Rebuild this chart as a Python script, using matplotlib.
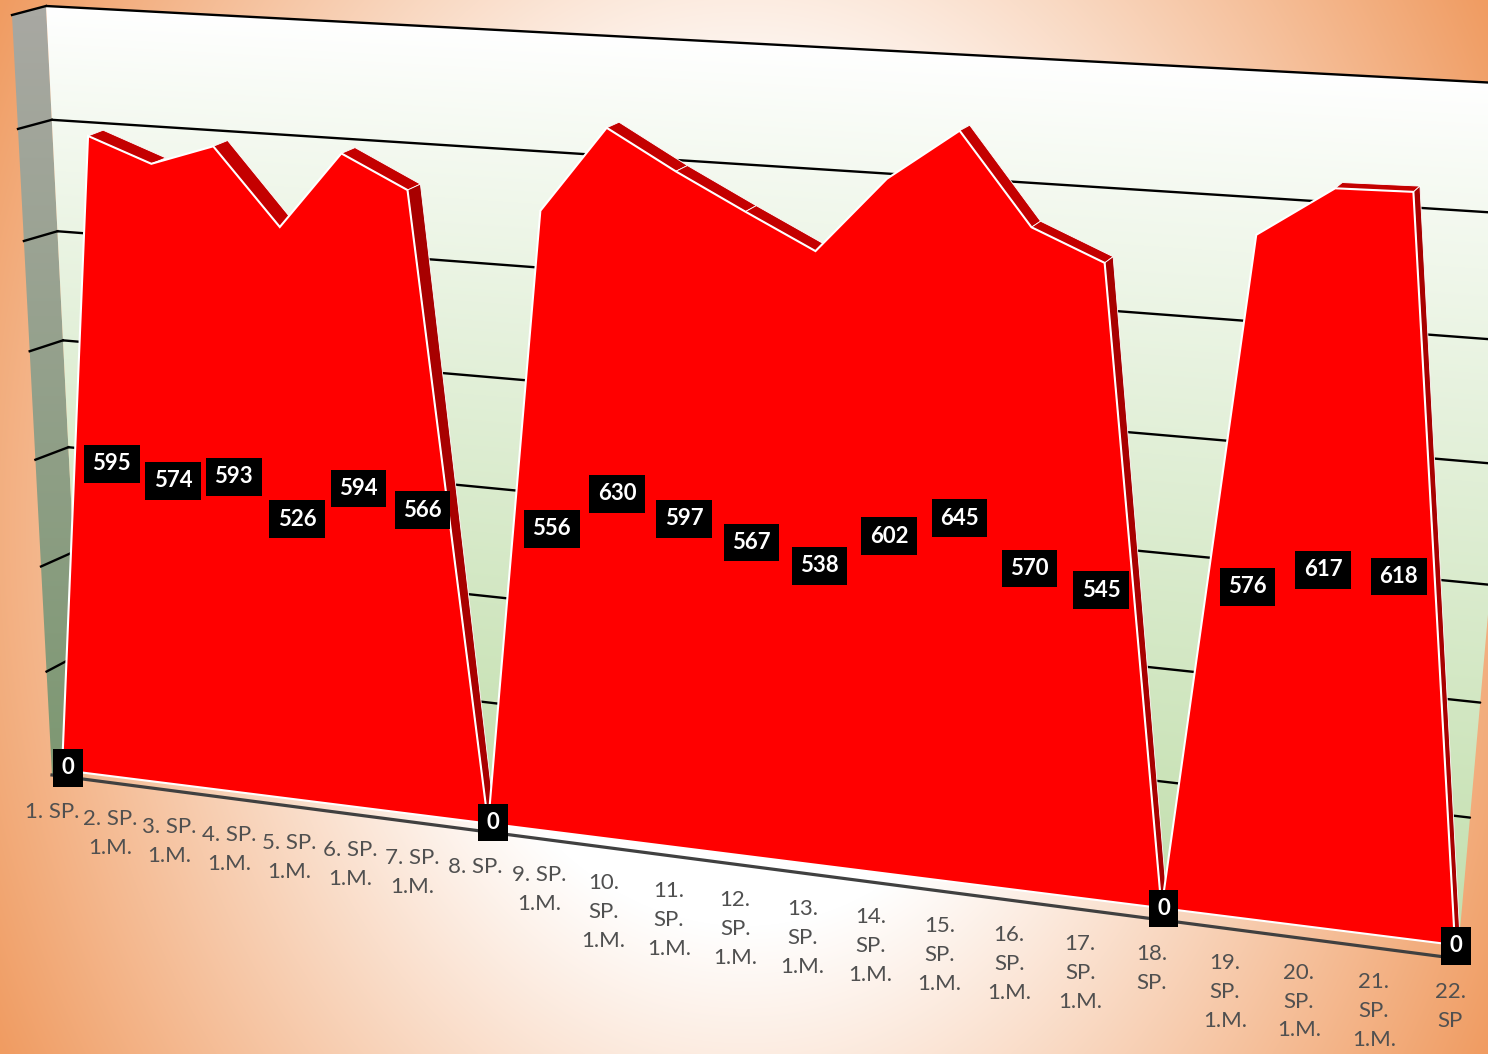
import numpy as np
import matplotlib
matplotlib.use('Agg')
import matplotlib.pyplot as plt
from matplotlib.patches import Polygon
from matplotlib.transforms import Transform

# data
values = [0, 595, 574, 593, 526, 594, 566, 0, 556, 630, 597, 567, 538, 602, 645, 570, 545, 0, 576, 617, 618, 0]
tick_labels = ['1. SP.', '2. SP.\n1.M.', '3. SP.\n1.M.', '4. SP.\n1.M.', '5. SP.\n1.M.', '6. SP.\n1.M.',
               '7. SP.\n1.M.', '8. SP.', '9. SP.\n1.M.', '10.\nSP.\n1.M.', '11.\nSP.\n1.M.', '12.\nSP.\n1.M.',
               '13.\nSP.\n1.M.', '14.\nSP.\n1.M.', '15.\nSP.\n1.M.', '16.\nSP.\n1.M.', '17.\nSP.\n1.M.',
               '18.\nSP.', '19.\nSP.\n1.M.', '20.\nSP.\n1.M.', '21.\nSP.\n1.M.', '22.\nSP']
grid_values = [0, 100, 200, 300, 400, 500, 600, 700]

W, H = 1488, 1054
X_MAX = 21
Y_MAX = 700


class Perspective(Transform):
    input_dims = 2
    output_dims = 2

    def __init__(self, bl, br, tl, tr):
        # plane corners in pixels: bottom left, bottom right, top left, top right
        super().__init__()
        src = [(0, 0), (X_MAX, 0), (0, Y_MAX), (X_MAX, Y_MAX)]
        dst = [bl, br, tl, tr]
        A = []
        b = []
        for (x, y), (u, v) in zip(src, dst):
            A.append([x, y, 1, 0, 0, 0, -u * x, -u * y])
            A.append([0, 0, 0, x, y, 1, -v * x, -v * y])
            b.extend([u, v])
        self.m = np.append(np.linalg.solve(np.array(A, float), np.array(b, float)), 1).reshape(3, 3)

    def transform_non_affine(self, values):
        pts = np.column_stack([values, np.ones(len(values))]) @ self.m.T
        return pts[:, :2] / pts[:, 2:]


def lerp_colors(t, c0, c1):
    c0 = np.array(matplotlib.colors.to_rgb(c0))
    c1 = np.array(matplotlib.colors.to_rgb(c1))
    return c0 + t[..., None] * (c1 - c0)


fig = plt.figure(figsize=(W / 100, H / 100), dpi=100)
ax = fig.add_axes([0, 0, 1, 1])
ax.axis('off')

front = Perspective((62, 770), (1455, 945), (20, 13), (1498, 91))
depth = Perspective((69, 764), (1460, 939), (37, 8), (1504, 86))
middle = Perspective((68, 768), (1456, 946), (29, 14), (1502, 96))
wall_front = Perspective((52, 775), (1445, 957), (12, 15), (1491, 110))
wall_back = Perspective((84, 755), (1460, 930), (46, 6), (1535, 85))
tick_row = Perspective((52, 802), (1450, 982), (12, 60), (1491, 132))

yy, xx = np.mgrid[0:H, 0:W]

# page background
r = np.hypot((xx - 744) / 744, (yy - 527) / (527 * 1.8))
ax.imshow(lerp_colors(np.clip((r - 0.42) / 0.72, 0, 1), '#FFFFFF', '#F09C62'),
          extent=(0, W, H, 0), aspect='auto', zorder=0)

# left wall
side = [(0, 0), (0, Y_MAX)]
wall_pts = np.vstack([(wall_front + ax.transData).transform(side),
                      (wall_back + ax.transData).transform(side[::-1])])
left_patch = Polygon(wall_pts, closed=True, transform=None, fc='none', ec='none')
ax.add_patch(left_patch)
im = ax.imshow(lerp_colors(np.clip((yy - 15) / 760, 0, 1), '#A8A8A2', '#7D9872'),
               extent=(0, W, H, 0), aspect='auto', zorder=1)
im.set_clip_path(left_patch)

# back wall
top_y = 6 + 0.0527 * xx
bot_y = 755 + 0.127 * xx
back_patch = Polygon([(0, 0), (X_MAX, 0), (X_MAX, Y_MAX), (0, Y_MAX)], closed=True,
                     transform=wall_back + ax.transData, fc='none', ec='none')
ax.add_patch(back_patch)
im = ax.imshow(lerp_colors(np.clip((yy - top_y) / (bot_y - top_y), 0, 1) ** 0.9, '#FFFFFF', '#C3DFAE'),
               extent=(0, W, H, 0), aspect='auto', zorder=1)
im.set_clip_path(back_patch)

ax.set_xlim(0, W)
ax.set_ylim(H, 0)

# grid lines, back wall then left wall
for g in grid_values[1:]:
    ax.plot([0, X_MAX], [g, g], color='black', lw=1.7, transform=wall_back + ax.transData, zorder=2,
            solid_capstyle='round')
    p0 = (wall_front + ax.transData).transform([(0, g)])[0]
    p1 = (wall_back + ax.transData).transform([(0, g)])[0]
    ax.plot([p0[0], p1[0]], [p0[1], p1[1]], color='black', lw=1.7, transform=None, zorder=2)

# floor edge
ax.plot([0, X_MAX], [0, 0], color='#404040', lw=2.3, transform=wall_front + ax.transData, zorder=2)

# top and side facets of the area
x = np.arange(len(values))
for i in range(len(values) - 1):
    if values[i + 1] - values[i] > 1:
        continue
    drop = values[i] - values[i + 1]
    seg = [(x[i], values[i]), (x[i + 1], values[i + 1])]
    quad = np.vstack([(front + ax.transData).transform(seg),
                      (depth + ax.transData).transform(seg[::-1])])
    ax.add_patch(Polygon(quad, closed=True, transform=None, fc='#A80000' if drop > 300 else '#C40000',
                         ec='white', lw=0.6, zorder=3))

# front of the area
ax.add_patch(Polygon(np.column_stack([x, values]), closed=True, transform=front + ax.transData,
                     fc='#FF0000', ec='white', lw=1.5, joinstyle='miter', zorder=4))

# data labels
for i, v in enumerate(values):
    ax.text(i, v / 2, str(v), transform=middle + ax.transData, ha='center', va='center',
            family='Lato', fontweight='bold', fontsize=16, color='white', zorder=6,
            bbox=dict(boxstyle='square,pad=0.38', fc='black', ec='none'))

# category labels
for i, lab in enumerate(tick_labels):
    ax.text(i, 0, lab, transform=tick_row + ax.transData, ha='center', va='top',
            family='Lato', fontsize=16, color='#505050', linespacing=1.56, zorder=6)

fig.savefig('out.png', dpi=100)
